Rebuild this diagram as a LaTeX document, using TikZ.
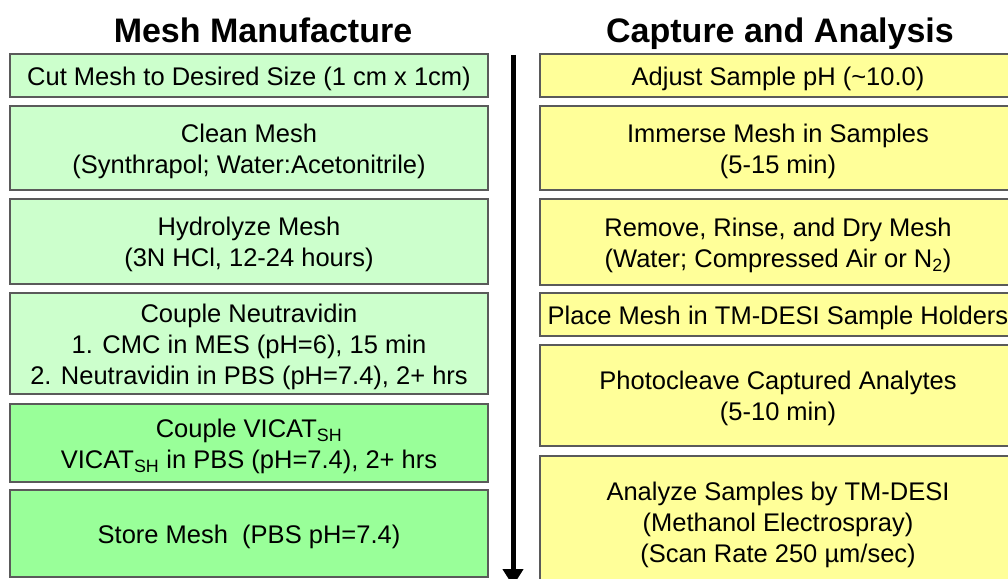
\documentclass[tikz,border=0pt]{standalone}
\usepackage{fontspec}
\setmainfont{Liberation Sans}
\usetikzlibrary{arrows.meta}
\definecolor{palegreen}{RGB}{204,255,204}
\definecolor{midgreen}{RGB}{153,255,153}
\definecolor{paleyellow}{RGB}{255,255,153}
\definecolor{boxline}{RGB}{90,90,90}
% box text, set a little lower than the centre
\newcommand{\steptext}[1]{\raisebox{-3.7pt}[\height][\depth]{\begin{tabular}{@{}c@{}}#1\end{tabular}}}
\begin{document}
\begin{tikzpicture}[x=1pt, y=-1pt,
    stepbox/.style={draw=boxline, line width=1.3pt, inner sep=0pt,
      font=\fontsize{25.5}{31}\selectfont},
    leftbox/.style={stepbox, minimum width=478pt},
    rightbox/.style={stepbox, fill=paleyellow, minimum width=476pt},
    headline/.style={anchor=base, font=\fontsize{34}{40}\selectfont\bfseries}]
  \useasboundingbox (0,0) rectangle (1008,578);
  % titles
  \node[headline] (T0) at (263, 42) {Mesh Manufacture};
  \node[headline] (T1) at (780, 42) {Capture and Analysis};
  % mesh manufacture
  \node[leftbox, fill=palegreen, minimum height=43pt] (L0) at (249, 75.5) {\steptext{Cut Mesh to Desired Size (1 cm x 1cm)}};
  \node[leftbox, fill=palegreen, minimum height=84pt] (L1) at (249, 148) {\steptext{Clean Mesh\\(Synthrapol; Water:Acetonitrile)}};
  \node[leftbox, fill=palegreen, minimum height=85pt] (L2) at (249, 241.5) {\steptext{Hydrolyze Mesh\\(3N HCl, 12-24 hours)}};
  \node[leftbox, fill=palegreen, minimum height=101pt] (L3) at (249, 343.5) {\steptext{Couple Neutravidin\\1. CMC in MES (pH=6), 15 min\\2. Neutravidin in PBS (pH=7.4), 2+ hrs}};
  \node[leftbox, fill=midgreen, minimum height=78pt] (L4) at (249, 443) {\steptext{Couple VICAT\textsubscript{SH}\\VICAT\textsubscript{SH} in PBS (pH=7.4), 2+ hrs}};
  \node[leftbox, fill=midgreen, minimum height=87pt] (L5) at (249, 533.5) {\steptext{Store Mesh\ \ (PBS pH=7.4)}};
  % capture and analysis
  \node[rightbox, minimum height=43pt] (R0) at (778, 75.5) {\steptext{Adjust Sample pH (\textasciitilde 10.0)}};
  \node[rightbox, minimum height=84pt] (R1) at (778, 148) {\steptext{Immerse Mesh in Samples\\(5-15 min)}};
  \node[rightbox, minimum height=86pt] (R2) at (778, 242) {\steptext{Remove, Rinse, and Dry Mesh\\(Water; Compressed Air or N\textsubscript{2})}};
  \node[rightbox, minimum height=43pt] (R3) at (778, 314.5) {\steptext{Place Mesh in TM-DESI Sample Holders}};
  \node[rightbox, minimum height=101pt] (R4) at (778, 395.5) {\steptext{Photocleave Captured Analytes\\(5-10 min)}};
  \node[rightbox, minimum height=132pt] (R5) at (778, 522) {\steptext{Analyze Samples by TM-DESI\\(Methanol Electrospray)\\(Scan Rate 250 µm/sec)}};
  % time arrow
  \coordinate (A0) at (513, 55);
  \coordinate (A1) at (513, 586);
  \draw[line width=5pt, -{Triangle[width=20pt, length=17pt]}] (A0) -- (A1);
\end{tikzpicture}
\end{document}
